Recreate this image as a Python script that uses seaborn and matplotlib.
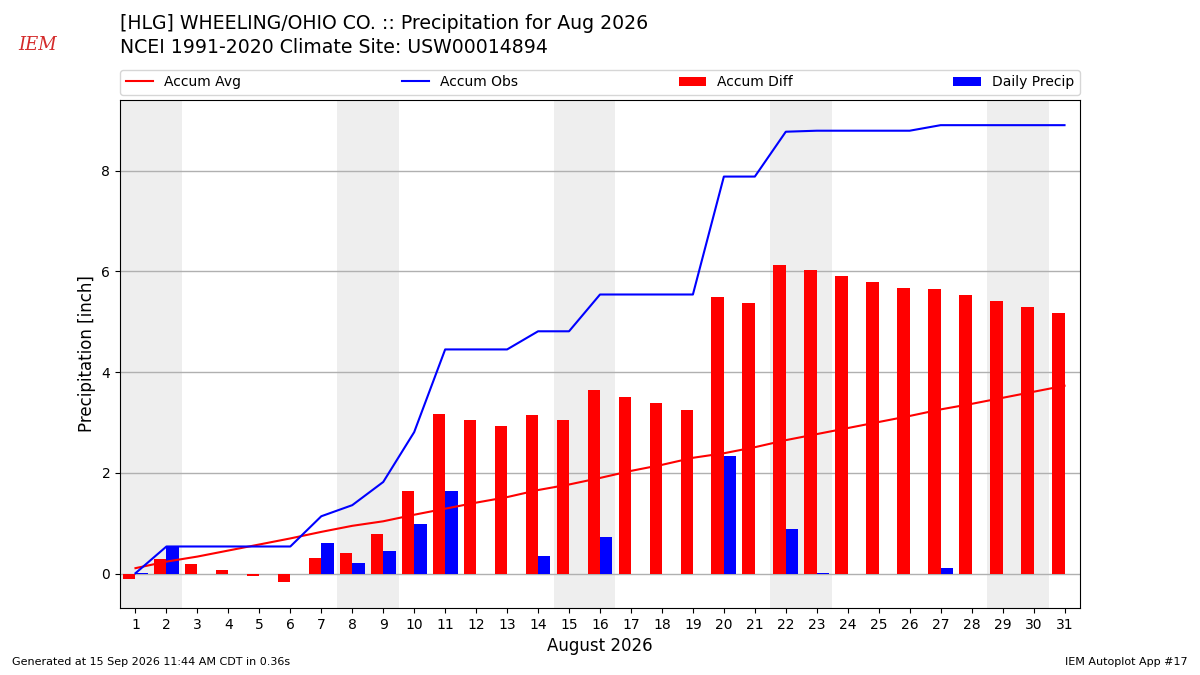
import numpy as np
import pandas as pd
import matplotlib
matplotlib.use("Agg")
import matplotlib.pyplot as plt
import seaborn as sns

# ── Data ─────────────────────────────────────────────────────────────
days = list(range(1, 32))
daily_precip = [0.01, 0.53, 0.0, 0.0, 0.0, 0.0, 0.60, 0.22, 0.46, 0.99,
                1.64, 0.0, 0.0, 0.36, 0.0, 0.73, 0.0, 0.0, 0.0, 2.34,
                0.0, 0.89, 0.02, 0.0, 0.0, 0.0, 0.11, 0.0, 0.0, 0.0, 0.0]
accum_avg = [0.11, 0.24, 0.34, 0.46, 0.58, 0.70, 0.83, 0.95, 1.04, 1.17,
             1.29, 1.41, 1.52, 1.66, 1.77, 1.90, 2.04, 2.16, 2.30, 2.39,
             2.51, 2.65, 2.77, 2.89, 3.01, 3.13, 3.26, 3.37, 3.49, 3.61, 3.73]
weekend_saturdays = [1, 8, 15, 22, 29]

df = pd.DataFrame({"day": days, "daily": daily_precip, "avg": accum_avg})
df["obs"] = df["daily"].cumsum()
df["diff"] = df["obs"] - df["avg"]

# ── Figure ───────────────────────────────────────────────────────────
fig = plt.figure(figsize=(12, 6.75), dpi=100)
ax = fig.add_axes([0.1, 0.0993, 0.8, 0.7526])

for sat in weekend_saturdays:
    ax.axvspan(sat - 0.5, sat + 1.5, color="#eeeeee", zorder=0, lw=0)

ax.grid(True, axis="y", color="#b0b0b0", lw=1, zorder=1)
ax.set_axisbelow(True)

sns.lineplot(data=df, x="day", y="avg", color="r", lw=1.5, ax=ax,
             label="Accum Avg", zorder=3)
sns.lineplot(data=df, x="day", y="obs", color="b", lw=1.5, ax=ax,
             label="Accum Obs", zorder=3)
ax.bar(df["day"], df["diff"], width=-0.4, align="edge", color="r",
       lw=0, label="Accum Diff", zorder=2)
ax.bar(df["day"], df["daily"], width=0.4, align="edge", color="b",
       lw=0, label="Daily Precip", zorder=2)

ax.set_xlim(0.5, 31.5)
ax.set_ylim(-0.68, 9.4)
ax.set_xticks(days)
ax.set_yticks([0, 2, 4, 6, 8])
ax.tick_params(labelsize=10)
ax.set_xlabel("August 2026", fontsize=12)
ax.set_ylabel("Precipitation [inch]", fontsize=12)

ax.legend(ncol=4, loc="lower left", bbox_to_anchor=(0, 1.01, 1, 0.05),
          mode="expand", borderaxespad=0, fontsize=10)

fig.text(0.1, 0.965, "[HLG] WHEELING/OHIO CO. :: Precipitation for Aug 2026",
         fontsize=13.6, va="center")
fig.text(0.1, 0.929, "NCEI 1991-2020 Climate Site: USW00014894",
         fontsize=13.6, va="center")
fig.text(0.031, 0.933, "IEM", fontsize=13, color="#d42a2a",
         style="italic", family="serif", ha="center", va="center")
fig.text(0.01, 0.015, "Generated at 15 Sep 2026 11:44 AM CDT in 0.36s",
         fontsize=8)
fig.text(0.99, 0.015, "IEM Autoplot App #17", fontsize=8, ha="right")

fig.savefig("out.png", dpi=100)
